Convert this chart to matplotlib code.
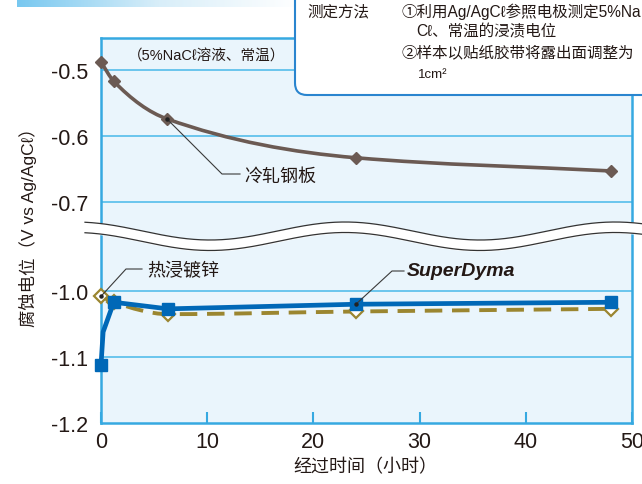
import numpy as np
import matplotlib
matplotlib.use('Agg')
import matplotlib.pyplot as plt
from matplotlib.path import Path
from matplotlib.patches import PathPatch, FancyBboxPatch
from matplotlib.colors import LinearSegmentedColormap

plt.rcParams['font.family'] = ['Liberation Sans', 'Noto Sans CJK SC', 'DejaVu Sans']

# data
hours_steel = [0, 1.2, 6.2, 24, 48]
volt_steel = [-0.488, -0.517, -0.574, -0.633, -0.653]

hours_galv = [0, 1.2, 6.3, 24, 48]
volt_galv = [-1.008, -1.017, -1.035, -1.031, -1.027]

hours_sd = [0, 0.2, 1.2, 6.3, 24, 48]
volt_sd = [-1.112, -1.062, -1.017, -1.027, -1.020, -1.017]
sd_marked = [0, 2, 3, 4, 5]

x_ticks = [0, 10, 20, 30, 40, 50]
y_ticks_top = [-0.5, -0.6, -0.7]
y_ticks_bot = [-1.0, -1.1, -1.2]

TXT = '#231815'
GRID = '#55bdeb'
SPINE = '#36a9e1'
BG = '#eaf5fc'
BROWN = '#6b5a53'
BLUE = '#0068b7'
OLIVE = '#9b8630'

W, H = 642, 485
fig = plt.figure(figsize=(6.42, 4.85), dpi=100)

left, right, top, split, bottom = 101, 632, 39, 232, 424
ax_top = fig.add_axes([left / W, 1 - split / H, (right - left) / W, (split - top) / H])
ax_bot = fig.add_axes([left / W, 1 - bottom / H, (right - left) / W, (bottom - split) / H])


def smooth_path(xs, ys):
    # monotone cubic (pchip) tangents, drawn as bezier segments
    xs = np.asarray(xs, float)
    ys = np.asarray(ys, float)
    h = np.diff(xs)
    d = np.diff(ys) / h
    m = np.zeros_like(ys)
    m[0], m[-1] = d[0], d[-1]
    for k in range(1, len(xs) - 1):
        if d[k - 1] * d[k] <= 0:
            m[k] = 0
        else:
            w1 = 2 * h[k] + h[k - 1]
            w2 = h[k] + 2 * h[k - 1]
            m[k] = (w1 + w2) / (w1 / d[k - 1] + w2 / d[k])
    verts = [(xs[0], ys[0])]
    codes = [Path.MOVETO]
    for k in range(len(xs) - 1):
        verts += [(xs[k] + h[k] / 3, ys[k] + m[k] * h[k] / 3),
                  (xs[k + 1] - h[k] / 3, ys[k + 1] - m[k + 1] * h[k] / 3),
                  (xs[k + 1], ys[k + 1])]
        codes += [Path.CURVE4] * 3
    return Path(verts, codes)


for ax in (ax_top, ax_bot):
    ax.set_facecolor(BG)
    ax.set_xlim(0, 50)
    for s in ax.spines.values():
        s.set_color(SPINE)
        s.set_linewidth(1.8)
    ax.tick_params(axis='y', length=0, pad=9, labelsize=15.5, labelcolor=TXT)

ax_top.set_ylim(-0.744, -0.4515)
ax_bot.set_ylim(-1.2, -0.909)
ax_top.spines['bottom'].set_visible(False)
ax_bot.spines['top'].set_visible(False)

ax_top.set_yticks(y_ticks_top)
ax_top.set_yticklabels([f'{v:.1f}' for v in y_ticks_top])
ax_bot.set_yticks(y_ticks_bot)
ax_bot.set_yticklabels([f'{v:.1f}' for v in y_ticks_bot])
for v in y_ticks_top:
    ax_top.axhline(v, color=GRID, lw=1.2, zorder=1)
for v in y_ticks_bot[:-1]:
    ax_bot.axhline(v, color=GRID, lw=1.2, zorder=1)

ax_top.set_xticks([])
ax_bot.set_xticks(x_ticks)
ax_bot.set_xticklabels([str(v) for v in x_ticks])
ax_bot.tick_params(axis='x', direction='in', length=8, width=1.5, color=SPINE,
                   pad=6, labelsize=15.5, labelcolor=TXT)

# cold rolled steel
ax_top.add_patch(PathPatch(smooth_path(hours_steel, volt_steel), fill=False,
                           ec=BROWN, lw=2.6, zorder=3))
ax_top.plot(hours_steel, volt_steel, ls='none', marker='D', ms=6,
            color=BROWN, zorder=4, clip_on=False)

# hot dip galvanized
ax_bot.add_patch(PathPatch(smooth_path(hours_galv, volt_galv), fill=False,
                           ec=OLIVE, lw=2.8, ls=(0, (4.5, 2.5)), zorder=3))
ax_bot.plot(hours_galv, volt_galv, ls='none', marker='D', ms=7, mfc='white',
            mec=OLIVE, mew=1.6, zorder=4, clip_on=False)

# SuperDyma
ax_bot.plot(hours_sd, volt_sd, color=BLUE, lw=3.4, marker='s', ms=9,
            markevery=sd_marked, zorder=5, clip_on=False)

# overlay in pixel coordinates
ov = fig.add_axes([0, 0, 1, 1])
ov.axis('off')

# gradient bar at top
grad = np.linspace(0, 1, 256).reshape(1, -1)
cm = LinearSegmentedColormap.from_list('g', ['#78c8f0', '#d8eef9', '#ffffff'])
ov.imshow(grad, cmap=cm, extent=[17, 300, 8, 0], aspect='auto', zorder=1)
ov.set_xlim(0, W)
ov.set_ylim(H, 0)

# axis break wave
xw = np.linspace(85, 642, 400)
yw = 232 + 9 * np.cos(2 * np.pi * (xw - 210) / 270)
ov.fill_between(xw, yw, yw + 10.5, color='white', zorder=2)
ov.plot(xw, yw, color='#333333', lw=0.9, zorder=3)
ov.plot(xw, yw + 10.5, color='#333333', lw=0.9, zorder=3)

# method box
ov.add_patch(FancyBboxPatch((295, -40), 420, 136,
                            boxstyle='round,pad=0,rounding_size=12',
                            fc='white', ec='#2a85cf', lw=1.5, zorder=4))
box_kw = dict(fontsize=11.2, color=TXT, va='center', ha='left', zorder=5)
ov.text(307, 12, '测定方法', **box_kw)
ov.text(401, 12, '①利用Ag/AgCℓ参照电极测定5%Na', **box_kw)
ov.text(416, 32, 'Cℓ、常温的浸渍电位', **box_kw)
ov.text(401, 53, '②样本以贴纸胶带将露出面调整为', **box_kw)
ov.text(418, 75, '1cm²', fontsize=9.5, color=TXT, va='center', ha='left', zorder=5)

ov.text(128, 57, '（5%NaCℓ溶液、常温）', fontsize=10.5, color=TXT,
        va='center', ha='left', zorder=5)


def leader(ax, xy, elbow, end):
    px = ov.transData.inverted().transform(ax.transData.transform(xy))
    ov.plot([px[0], elbow[0], end], [px[1], elbow[1], elbow[1]],
            color='#3a3a3a', lw=0.8, zorder=6)
    ov.plot(px[0], px[1], marker='o', ms=2.2, color='#222222', zorder=6)


leader(ax_top, (hours_steel[2], volt_steel[2]), (222, 175), 240)
ov.text(244, 177, '冷轧钢板', fontsize=13, color=TXT, va='center', ha='left', zorder=6)

leader(ax_bot, (hours_galv[0], volt_galv[0]), (126, 270), 142)
ov.text(147, 272, '热浸镀锌', fontsize=13, color=TXT, va='center', ha='left', zorder=6)

leader(ax_bot, (hours_sd[4], volt_sd[4]), (392, 272), 404)
ov.text(407, 272, 'SuperDyma', fontsize=14, fontweight='bold', fontstyle='italic',
        color=TXT, va='center', ha='left', zorder=6)

fig.text(28 / W, 1 - 223 / H, '腐蚀电位（V vs Ag/AgCℓ）', rotation=90,
         fontsize=12.5, color=TXT, ha='center', va='center')
fig.text(365 / W, 1 - 468 / H, '经过时间（小时）', fontsize=13, color=TXT,
         ha='center', va='center')

fig.savefig('out.png', dpi=100)
